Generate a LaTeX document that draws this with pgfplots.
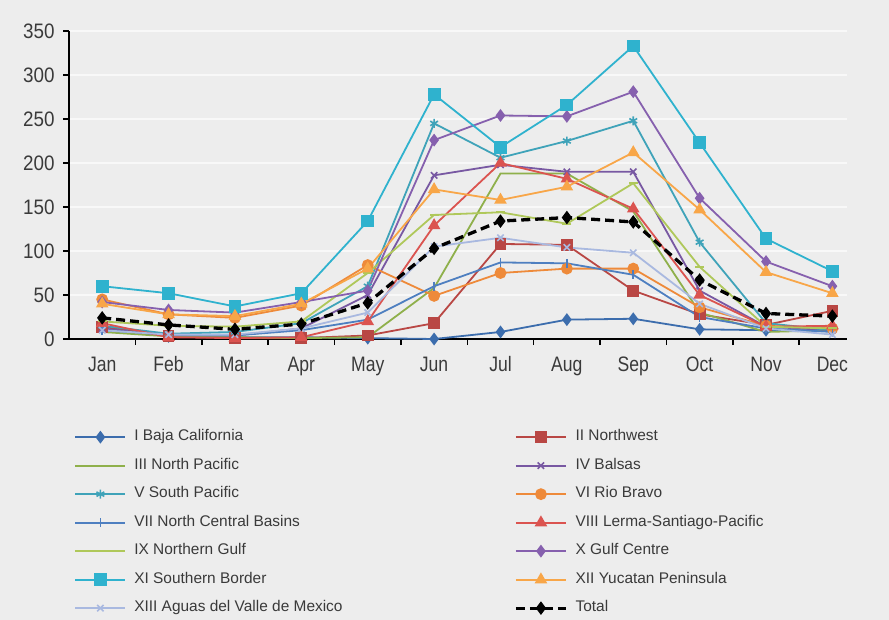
\documentclass[border=0pt]{standalone}
\usepackage{fontspec}
\setmainfont{Liberation Sans}
\newfontfamily\xtickfont[FakeStretch=0.84]{Liberation Sans}
\newfontfamily\ytickfont[FakeStretch=0.9]{Liberation Sans}
\usepackage{pgfplots}
\pgfplotsset{compat=1.18}
\definecolor{bg}{HTML}{EDEDED}
\definecolor{gridc}{HTML}{F8F8F8}
\definecolor{txt}{HTML}{3A3A3A}
\definecolor{cI}{HTML}{3C6DAD}
\definecolor{cII}{HTML}{B94744}
\definecolor{cIII}{HTML}{8FB04B}
\definecolor{cIV}{HTML}{7858A2}
\definecolor{cV}{HTML}{3FA3B9}
\definecolor{cVI}{HTML}{EE8A3A}
\definecolor{cVII}{HTML}{4E7FC0}
\definecolor{cVIII}{HTML}{DB5450}
\definecolor{cIX}{HTML}{AFC85A}
\definecolor{cX}{HTML}{8660AE}
\definecolor{cXI}{HTML}{2FB2CE}
\definecolor{cXII}{HTML}{F8A648}
\definecolor{cXIII}{HTML}{A9B9E0}
\begin{document}
\begin{tikzpicture}
\path[use as bounding box, fill=bg] (-69bp,-281bp) rectangle (820bp,339bp);
\begin{axis}[
  at={(0,0)}, anchor=south west,
  scale only axis, width=778bp, height=308bp,
  xmin=-0.5, xmax=11.22, ymin=0, ymax=350,
  axis x line*=bottom, axis y line*=left,
  axis line style={line width=1.8bp, black},
  tick align=outside, major tick length=6bp,
  tick style={line width=1.5bp, black},
  xtick={0.5,1.5,...,10.5}, xticklabels={},
  extra x ticks={0,1,2,3,4,5,6,7,8,9,10,11},
  extra x tick labels={Jan,Feb,Mar,Apr,May,Jun,Jul,Aug,Sep,Oct,Nov,Dec},
  extra x tick style={major tick length=0pt},
  ytick={0,50,...,350},
  ymajorgrids, major grid style={gridc, line width=1.5bp},
  /pgf/number format/assume math mode=true,
  xticklabel style={font=\fontsize{21}{21}\selectfont\xtickfont, text=txt, text height=15bp, text depth=4bp, yshift=-14bp},
  yticklabel style={font=\fontsize{21}{21}\selectfont\ytickfont, text=txt, xshift=-5bp},
  legend columns=2,
  legend cell align=left,
  legend style={at={(0.0068,-0.288)}, anchor=north west, draw=none, fill=none,
    inner sep=0pt, row sep=10bp, font=\fontsize{15.5}{18}\selectfont, text=txt,
    nodes={inner sep=2bp, text height=11bp, text depth=3.5bp},
    /tikz/every odd column/.append style={column sep=6bp}},
  legend image code/.code={\draw[mark repeat=2,mark phase=2] plot coordinates {(0bp,0bp) (25bp,0bp) (50bp,0bp)};},
  every axis plot/.append style={line width=1.8bp},
]
\addplot[cI, mark=diamond*, mark size=5bp, mark options={solid, fill=cI}] coordinates {(0,15)(1,3)(2,2)(3,2)(4,1)(5,0)(6,8)(7,22)(8,23)(9,11)(10,10)(11,10)};
\addlegendentry{\makebox[378bp][l]{I Baja California}}
\addplot[cII, mark=square*, mark size=5bp, mark options={solid, fill=cII}] coordinates {(0,14)(1,3)(2,1)(3,1)(4,4)(5,18)(6,108)(7,107)(8,55)(9,28)(10,16)(11,32)};
\addlegendentry{II Northwest}
\addplot[cIII, no markers] coordinates {(0,8)(1,3)(2,2)(3,1)(4,2)(5,58)(6,188)(7,188)(8,145)(9,30)(10,8)(11,10)};
\addlegendentry{\makebox[378bp][l]{III North Pacific}}
\addplot[cIV, mark=x, mark size=4.5bp, mark options={solid, line width=1.6bp}] coordinates {(0,12)(1,4)(2,4)(3,12)(4,50)(5,186)(6,198)(7,190)(8,190)(9,55)(10,14)(11,10)};
\addlegendentry{IV Balsas}
\addplot[cV, mark=asterisk, mark size=4.5bp, mark options={solid, line width=1.6bp}] coordinates {(0,15)(1,6)(2,8)(3,18)(4,60)(5,245)(6,206)(7,225)(8,248)(9,110)(10,18)(11,10)};
\addlegendentry{\makebox[378bp][l]{V South Pacific}}
\addplot[cVI, mark=*, mark size=5bp, mark options={solid, fill=cVI}] coordinates {(0,45)(1,28)(2,24)(3,38)(4,84)(5,49)(6,75)(7,80)(8,80)(9,36)(10,15)(11,12)};
\addlegendentry{VI Rio Bravo}
\addplot[cVII, mark=|, mark size=4.5bp, mark options={solid, line width=1.6bp}] coordinates {(0,10)(1,5)(2,4)(3,10)(4,22)(5,60)(6,87)(7,86)(8,73)(9,25)(10,12)(11,8)};
\addlegendentry{\makebox[378bp][l]{VII North Central Basins}}
\addplot[cVIII, mark=triangle*, mark size=5.5bp, mark options={solid, fill=cVIII}] coordinates {(0,18)(1,2)(2,1)(3,2)(4,20)(5,129)(6,200)(7,182)(8,148)(9,50)(10,14)(11,15)};
\addlegendentry{VIII Lerma-Santiago-Pacific}
\addplot[cIX, mark=-, mark size=4.5bp, mark options={solid, line width=2bp}] coordinates {(0,20)(1,15)(2,14)(3,20)(4,75)(5,141)(6,144)(7,131)(8,177)(9,82)(10,14)(11,12)};
\addlegendentry{\makebox[378bp][l]{IX Northern Gulf}}
\addplot[cX, mark=diamond*, mark size=5bp, mark options={solid, fill=cX}] coordinates {(0,42)(1,33)(2,30)(3,42)(4,55)(5,226)(6,254)(7,253)(8,281)(9,160)(10,88)(11,60)};
\addlegendentry{X Gulf Centre}
\addplot[cXI, mark=square*, mark size=5.5bp, mark options={solid, fill=cXI}] coordinates {(0,60)(1,52)(2,37)(3,52)(4,134)(5,278)(6,218)(7,266)(8,333)(9,223)(10,114)(11,77)};
\addlegendentry{\makebox[378bp][l]{XI Southern Border}}
\addplot[cXII, mark=triangle*, mark size=5.5bp, mark options={solid, fill=cXII}] coordinates {(0,40)(1,28)(2,26)(3,40)(4,80)(5,170)(6,158)(7,173)(8,212)(9,147)(10,76)(11,52)};
\addlegendentry{XII Yucatan Peninsula}
\addplot[cXIII, mark=x, mark size=4.5bp, mark options={solid, line width=1.6bp}] coordinates {(0,10)(1,5)(2,5)(3,12)(4,30)(5,105)(6,115)(7,104)(8,98)(9,40)(10,12)(11,5)};
\addlegendentry{\makebox[378bp][l]{XIII Aguas del Valle de Mexico}}
\addplot[black, line width=3.3bp, dash pattern=on 9bp off 5bp, mark=diamond*, mark size=6bp, mark options={solid, fill=black, line width=1bp}] coordinates {(0,24)(1,16)(2,11)(3,17)(4,41)(5,103)(6,134)(7,138)(8,133)(9,67)(10,29)(11,26)};
\addlegendentry{Total}
\end{axis}
\end{tikzpicture}
\end{document}
